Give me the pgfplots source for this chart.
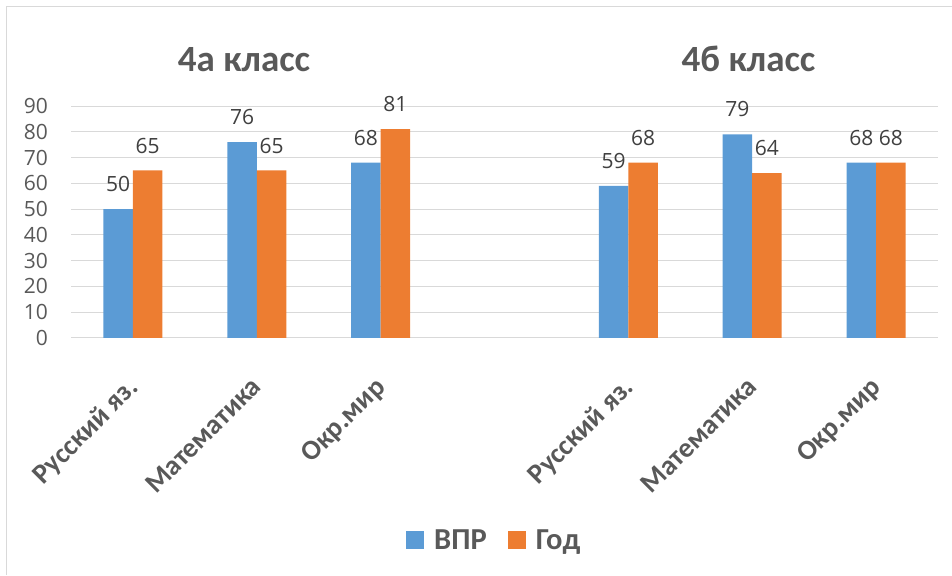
\documentclass[border=0pt]{standalone}
\usepackage{fontspec}
\setmainfont{Carlito}
\newfontfamily\numfont{Open Sans}
\usepackage{pgfplots}
\pgfplotsset{compat=1.18}
\definecolor{cblue}{HTML}{5B9BD5}
\definecolor{corange}{HTML}{ED7D31}
\definecolor{cgrid}{HTML}{D9D9D9}
\definecolor{ctext}{HTML}{595959}
\definecolor{clabel}{HTML}{404040}
\begin{document}
\begin{tikzpicture}[x=1pt,y=1pt]
\path[use as bounding box] (0,0) rectangle (952,575);
\draw[cgrid, line width=1pt] (6,0) -- (6,568) -- (952,568);
\begin{axis}[
  at={(71pt,237pt)}, anchor=south west,
  scale only axis, width=867pt, height=232pt,
  xmin=-0.5, xmax=6.5, ymin=0, ymax=90,
  ybar=0pt, bar width=29.5pt,
  ytick={0,10,...,90},
  xtick={0,1,2,4,5,6},
  xticklabels={Русский яз.,Математика,Окр.мир,Русский яз.,Математика,Окр.мир},
  axis line style={draw=none},
  major tick style={draw=none},
  ymajorgrids,
  grid style={cgrid, line width=1pt},
  /pgf/number format/assume math mode=true,
  yticklabel style={font=\fontsize{21}{21}\selectfont\numfont, text=ctext, anchor=east, inner sep=0pt, xshift=-23pt},
  xticklabel style={yshift=-33pt, xshift=-7pt, rotate=45, anchor=north east, inner sep=0pt, font=\fontsize{28}{28}\selectfont\bfseries, text=ctext},
  nodes near coords,
  nodes near coords style={font=\fontsize{21}{21}\selectfont\numfont, text=clabel, anchor=south, inner sep=0pt, yshift=17pt},
  clip=false,
  legend columns=2,
  legend style={at={(0.3864,-0.8707)}, anchor=west, draw=none, fill=none, inner sep=0pt,
    font=\fontsize{30.5}{30.5}\selectfont\bfseries, text=ctext,
    /tikz/every even column/.append style={column sep=19pt}},
  legend image code/.code={\fill[#1] (0pt,-9pt) rectangle (18pt,9pt); \path (26pt,0pt);},
]
\addplot[fill=cblue, draw=none] coordinates {(0,50) (1,76) (2,68) (4,59) (5,79) (6,68)};
\addplot[fill=corange, draw=none] coordinates {(0,65) (1,65) (2,81) (4,68) (5,64) (6,68)};
\legend{ВПР, Год}
\end{axis}
\node[anchor=base, font=\fontsize{37}{37}\selectfont\bfseries, text=ctext, inner sep=0pt] at (244,503) {4а класс};
\node[anchor=base, font=\fontsize{37}{37}\selectfont\bfseries, text=ctext, inner sep=0pt] at (748.5,503) {4б класс};
\end{tikzpicture}
\end{document}
